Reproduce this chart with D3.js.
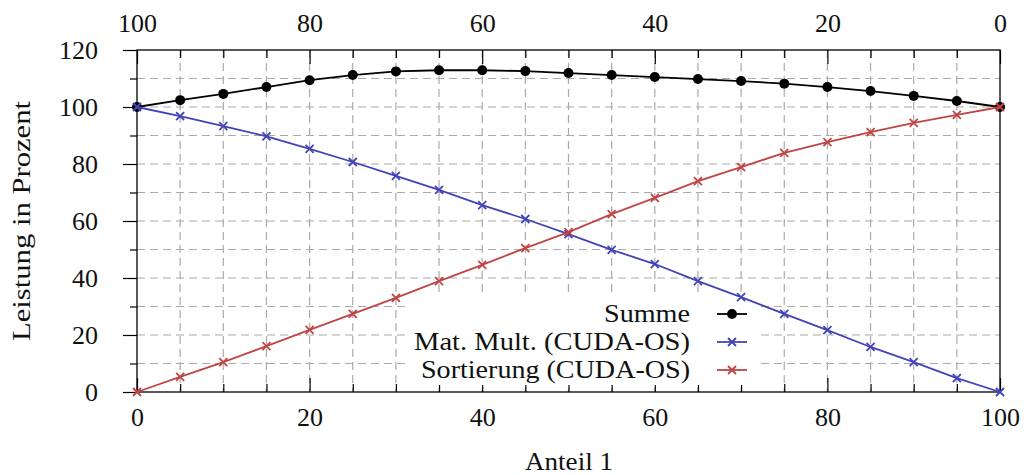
<!DOCTYPE html>
<html>
<head>
<meta charset="utf-8">
<script src="https://cdn.jsdelivr.net/npm/d3@7"></script>
<style>
  html, body { margin: 0; padding: 0; background: #fff; }
  svg { display: block; }
  text { font-family: "Liberation Serif", "Times New Roman", serif; fill: #111; }
</style>
</head>
<body>
<div id="chart"></div>
<script>
const anteil = [0, 5, 10, 15, 20, 25, 30, 35, 40, 45, 50, 55, 60, 65, 70, 75, 80, 85, 90, 95, 100];
const summe = [100, 102.4, 104.6, 107.0, 109.4, 111.2, 112.5, 112.9, 112.9, 112.6, 111.9, 111.2, 110.5, 109.8, 109.1, 108.2, 107.0, 105.6, 103.9, 102.1, 100];
const matMult = [100, 96.8, 93.3, 89.7, 85.3, 80.7, 75.8, 70.9, 65.6, 60.7, 55.4, 49.9, 44.9, 38.9, 33.3, 27.4, 21.7, 15.8, 10.5, 4.9, 0];
const sortierung = [0, 5.3, 10.5, 16.1, 21.8, 27.4, 33.0, 38.9, 44.6, 50.5, 56.1, 62.4, 68.1, 74.0, 78.9, 83.9, 87.7, 91.2, 94.4, 97.2, 100];
const xTicks = [0, 20, 40, 60, 80, 100];
const topTicks = [100, 80, 60, 40, 20, 0];
const yTicks = [0, 20, 40, 60, 80, 100, 120];

const series = [
  { name: 'Summe', values: summe, color: '#000000', marker: 'dot', len: 86 },
  { name: 'Mat. Mult. (CUDA-OS)', values: matMult, color: '#4343b8', marker: 'cross', len: 276 },
  { name: 'Sortierung (CUDA-OS)', values: sortierung, color: '#c04545', marker: 'cross', len: 269 }
];

const width = 1024, height = 475;
const L = 137, R = 1000, T = 50, B = 392;
const FS = 26;

const svg = d3.select('#chart').append('svg')
  .attr('width', width).attr('height', height);

const x = d3.scaleLinear().domain([0, 100]).range([L, R]);
const xTop = d3.scaleLinear().domain([100, 0]).range([L, R]);
const y = d3.scaleLinear().domain([0, 120]).range([B, T]);

const minorX = d3.range(0, 101, 5).filter(v => v % 20 !== 0);
const minorY = d3.range(0, 121, 10).filter(v => v % 20 !== 0);

// grid
const grid = svg.append('g').attr('stroke', '#aaa').attr('stroke-width', 1.2).attr('stroke-dasharray', '8,5');
grid.selectAll('line.v').data(d3.range(5, 100, 5)).join('line').attr('class', 'v')
  .attr('x1', d => x(d)).attr('x2', d => x(d)).attr('y1', T).attr('y2', B);
grid.selectAll('line.h').data(d3.range(10, 120, 10)).join('line').attr('class', 'h')
  .attr('x1', L).attr('x2', R).attr('y1', d => y(d)).attr('y2', d => y(d));

// axes
function styleAxis(g) {
  g.select('.domain').remove();
  g.selectAll('.tick line').attr('stroke', '#000').attr('stroke-width', 1.2);
  g.selectAll('.tick text').attr('font-size', FS).attr('font-family', '"Liberation Serif", serif').attr('fill', '#111');
}
svg.append('g').attr('transform', `translate(0,${B})`)
  .call(d3.axisBottom(x).tickValues(xTicks).tickSize(-14).tickPadding(16)).call(styleAxis);
svg.append('g').attr('transform', `translate(0,${B})`)
  .call(d3.axisBottom(x).tickValues(minorX).tickSize(-8).tickFormat('')).call(styleAxis);
svg.append('g').attr('transform', `translate(0,${T})`)
  .call(d3.axisBottom(x).tickValues(xTicks).tickSize(14).tickFormat('')).call(styleAxis);
svg.append('g').attr('transform', `translate(0,${T})`)
  .call(d3.axisBottom(x).tickValues(minorX).tickSize(8).tickFormat('')).call(styleAxis);
svg.append('g').attr('transform', `translate(0,${T})`)
  .call(d3.axisTop(xTop).tickValues(topTicks).tickSize(0).tickPadding(18)).call(styleAxis);
svg.append('g').attr('transform', `translate(${L},0)`)
  .call(d3.axisLeft(y).tickValues(yTicks).tickSize(14).tickPadding(25)).call(styleAxis);
svg.append('g').attr('transform', `translate(${L},0)`)
  .call(d3.axisLeft(y).tickValues(minorY).tickSize(7).tickFormat('')).call(styleAxis);

// frame
svg.append('rect').attr('x', L).attr('y', T).attr('width', R - L).attr('height', B - T)
  .attr('fill', 'none').attr('stroke', '#000').attr('stroke-width', 1.3);

// axis labels
svg.append('text').attr('x', 569).attr('y', 470).attr('text-anchor', 'middle')
  .attr('font-size', FS).attr('textLength', 88).attr('lengthAdjust', 'spacingAndGlyphs').text('Anteil 1');
svg.append('text').attr('transform', `translate(30,221) rotate(-90)`)
  .attr('text-anchor', 'middle').attr('font-size', FS)
  .attr('textLength', 240).attr('lengthAdjust', 'spacingAndGlyphs').text('Leistung in Prozent');

// legend background (under the curves)
svg.append('rect').attr('x', 405).attr('y', 297).attr('width', 356).attr('height', 88).attr('fill', '#fff');

// lines and markers
const line = d3.line().x((d, i) => x(anteil[i])).y(d => y(d));
function drawMarker(g, type, color) {
  if (type === 'dot') {
    g.append('circle').attr('r', 5).attr('fill', color);
  } else {
    const s = 4;
    g.append('path').attr('d', `M${-s},${-s}L${s},${s}M${-s},${s}L${s},${-s}`)
      .attr('stroke', color).attr('stroke-width', 1.8).attr('fill', 'none');
  }
}

const plot = svg.append('g');
series.forEach(s => {
  plot.append('path').datum(s.values).attr('d', line)
    .attr('fill', 'none').attr('stroke', s.color).attr('stroke-width', 1.8);
  s.values.forEach((v, i) => {
    const g = plot.append('g').attr('transform', `translate(${x(anteil[i])},${y(v)})`);
    drawMarker(g, s.marker, s.color);
  });
});

// legend entries
const legend = svg.append('g');
series.forEach((s, i) => {
  const cy = 314 + i * 28;
  legend.append('text').attr('x', 690).attr('y', cy + 8).attr('text-anchor', 'end')
    .attr('font-size', FS).attr('textLength', s.len).attr('lengthAdjust', 'spacingAndGlyphs').text(s.name);
  legend.append('line').attr('x1', 717).attr('x2', 747).attr('y1', cy).attr('y2', cy)
    .attr('stroke', s.color).attr('stroke-width', 1.8);
  const g = legend.append('g').attr('transform', `translate(732,${cy})`);
  drawMarker(g, s.marker, s.color);
});
</script>
</body>
</html>
